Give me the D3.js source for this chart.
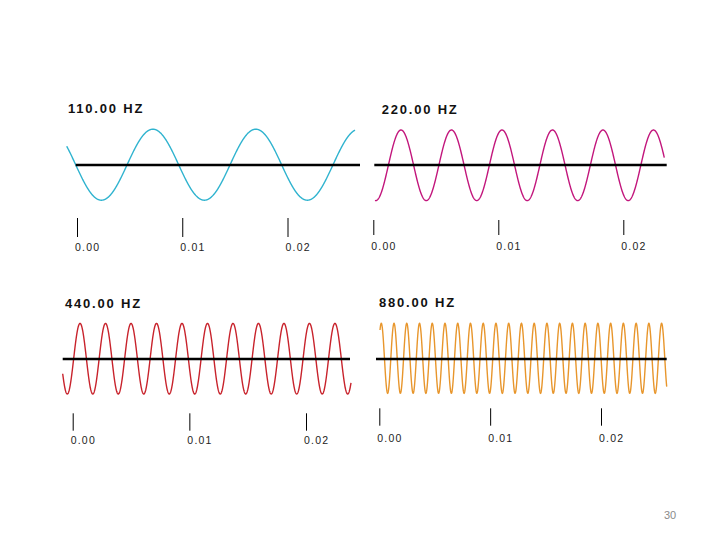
<!DOCTYPE html>
<html>
<head>
<meta charset="utf-8">
<script src="https://cdn.jsdelivr.net/npm/d3@7"></script>
<style>
  html, body { margin: 0; padding: 0; background: #fff; }
  svg { display: block; }
</style>
</head>
<body>
<svg id="chart" width="720" height="540"></svg>
<script>
// ---- data ----
const titles = ["110.00 HZ", "220.00 HZ", "440.00 HZ", "880.00 HZ"];
const freqs = [110, 220, 440, 880];              // Hz
const startPhase = [0.413, -0.265, 0.57, 0.15];  // phase (in cycles) at left edge of trace
const cyclesShown = [2.8, 5.73, 11.31, 22.5];    // cycles visible in trace
const tickValues = [0, 0.01, 0.02];
const tickLabels = ["0.00", "0.01", "0.02"];
const pageNumber = "30";

// ---- layout ----
const colors = ["#2fb3cf", "#c2167c", "#c8232c", "#e8962c"];
const layout = [
  { tx: 68,  ty: 112.5, wx: [66.7, 355],  cy: 164.7, amp: 35.5, ax: [75.7, 360], ay: 165,
    tk: [77, 287.5],  tkY: [218, 237],     lblY: 250.5 },
  { tx: 381.7, ty: 114, wx: [375, 664.3], cy: 165.3, amp: 35.3, ax: [374.3, 666.7], ay: 165,
    tk: [373.3, 623.3], tkY: [220, 235],   lblY: 250 },
  { tx: 65,  ty: 308.3, wx: [62.7, 351],  cy: 358.7, amp: 35.3, ax: [62.7, 350], ay: 359,
    tk: [72.7, 306],  tkY: [413.3, 430.7], lblY: 444 },
  { tx: 379, ty: 306.7, wx: [380, 666.7], cy: 358.3, amp: 35,   ax: [376, 666.7], ay: 359,
    tk: [379.3, 601], tkY: [408.3, 425.7], lblY: 441.7 }
];

const svg = d3.select("#chart");

freqs.forEach((f, i) => {
  const L = layout[i];
  const g = svg.append("g");

  // title
  g.append("text")
    .attr("x", L.tx).attr("y", L.ty)
    .attr("font-family", "Liberation Sans, Arial, sans-serif")
    .attr("font-weight", "bold")
    .attr("font-size", 13)
    .attr("letter-spacing", "1.8px")
    .attr("fill", "#111")
    .text(titles[i]);

  // waveform
  const t0 = startPhase[i] / f;
  const t1 = (startPhase[i] + cyclesShown[i]) / f;
  const x = d3.scaleLinear().domain([t0, t1]).range(L.wx);
  const y = d3.scaleLinear().domain([-1, 1]).range([L.cy + L.amp, L.cy - L.amp]);
  const n = 1200;
  const pts = d3.range(n + 1).map(k => {
    const t = t0 + (t1 - t0) * k / n;
    return [t, Math.sin(2 * Math.PI * f * t)];
  });
  g.append("path")
    .datum(pts)
    .attr("fill", "none")
    .attr("stroke", colors[i])
    .attr("stroke-width", 1.4)
    .attr("d", d3.line().x(d => x(d[0])).y(d => y(d[1])));

  // zero line
  g.append("line")
    .attr("x1", L.ax[0]).attr("x2", L.ax[1])
    .attr("y1", L.ay).attr("y2", L.ay)
    .attr("stroke", "#000").attr("stroke-width", 2.5);

  // time ticks
  const xt = d3.scaleLinear().domain([0, 0.02]).range(L.tk);
  const axis = d3.axisBottom(xt)
    .tickValues(tickValues)
    .tickFormat((d, k) => tickLabels[k])
    .tickSize(L.tkY[1] - L.tkY[0])
    .tickPadding(0);
  const ag = g.append("g")
    .attr("transform", `translate(0,${L.tkY[0]})`)
    .call(axis);
  ag.select(".domain").remove();
  ag.selectAll(".tick line").attr("stroke", "#000").attr("stroke-width", 1);
  ag.selectAll(".tick text")
    .attr("x", -2.5)
    .attr("y", L.lblY - L.tkY[0])
    .attr("dy", 0)
    .attr("text-anchor", "start")
    .attr("font-family", "Liberation Sans, Arial, sans-serif")
    .attr("font-size", 10.5)
    .attr("letter-spacing", "1.2px")
    .attr("fill", "#222");
});

// page number
svg.append("text")
  .attr("x", 670).attr("y", 519)
  .attr("text-anchor", "middle")
  .attr("font-family", "Liberation Sans, Arial, sans-serif")
  .attr("font-size", 11)
  .attr("fill", "#8a8a8a")
  .text(pageNumber);
</script>
</body>
</html>
